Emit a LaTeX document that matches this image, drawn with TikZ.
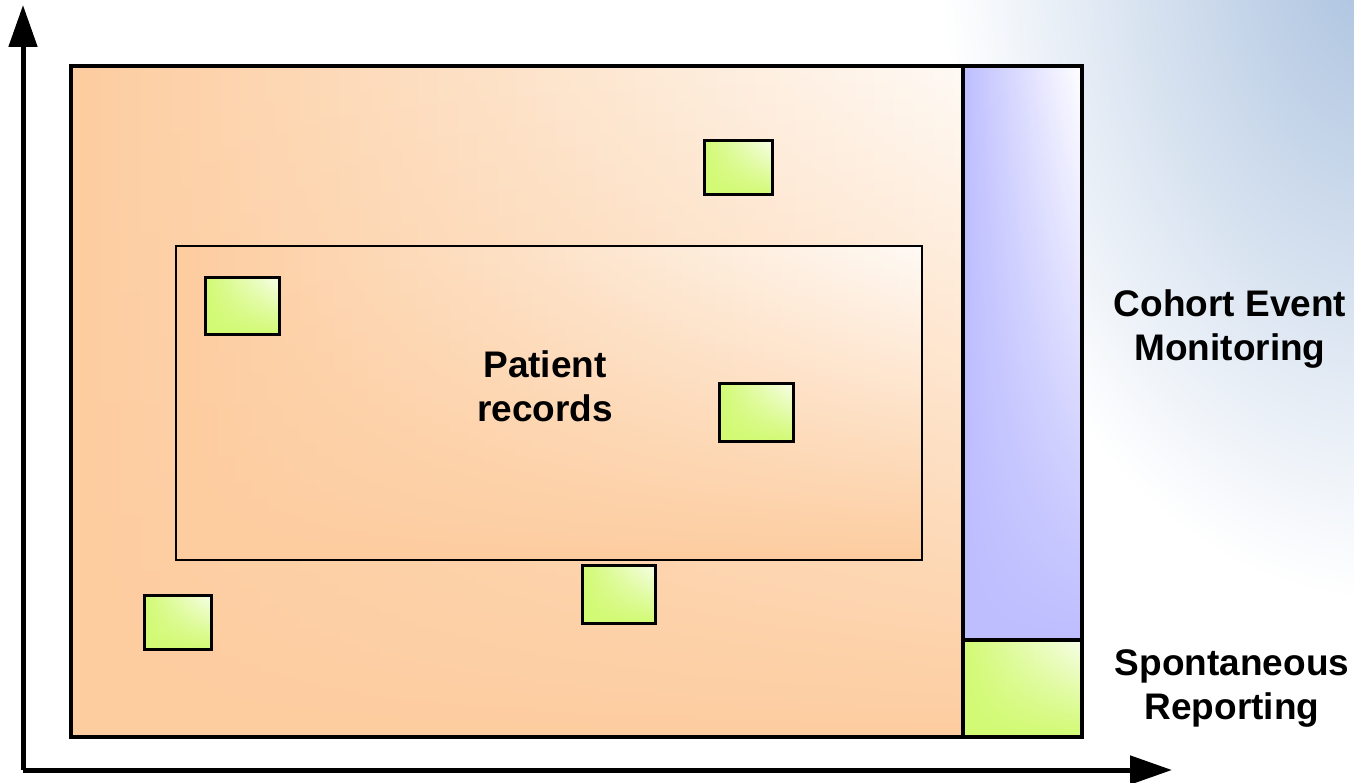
\documentclass[tikz,border=0pt]{standalone}
\usepackage{fontspec}
\setmainfont{Liberation Sans}
\usetikzlibrary{arrows.meta,fadings}

\definecolor{pkorange}{RGB}{253,205,160}
\definecolor{pklight}{RGB}{255,250,245}
\definecolor{pklime}{RGB}{210,250,115}
\definecolor{pkviolet}{RGB}{190,190,255}
\definecolor{pksky}{RGB}{168,192,222}

% opaque at the bottom, clear at the top
\tikzfading[name=fadeup, top color=transparent!100, middle color=transparent!75,
  bottom color=transparent!0]

\tikzset{
  orangefill/.style={left color=pkorange, right color=pklight,
    postaction={fill=pkorange, path fading=fadeup}},
  limefill/.style={left color=pklime, right color=white!85!pklime,
    postaction={fill=pklime, path fading=fadeup}},
  signalbox/.style={limefill, inner sep=0pt,
    postaction={draw=black, line width=3pt}},
  labeltext/.style={align=center, font=\fontsize{37}{44}\selectfont\bfseries},
  axisline/.style={line width=5pt, -{Triangle[length=42pt,width=28pt]}}
}

\begin{document}
\begin{tikzpicture}[x=1pt,y=-1pt]
    \useasboundingbox (0,0) rectangle (1354,783);
    \fill[white] (0,0) rectangle (1354,783);

    % Background tint in the top right corner
    \begin{scope}
        \clip (0,0) rectangle (1354,783);
        \shade[inner color=pksky, outer color=white] (1380,-60) ellipse (440 and 660);
    \end{scope}

    % Axes
    \coordinate (origin) at (23,770);
    \coordinate (ytip) at (23,5);
    \coordinate (xtip) at (1172,770);
    \draw[axisline] (origin) -- (ytip);
    \draw[axisline] (origin) -- (xtip);

    % Population and patient records
    \path[orangefill] (71,66) rectangle (963,737);
    \draw[line width=4pt] (71,66) rectangle (963,737);
    \path[orangefill] (176,246) rectangle (922,560);
    \draw[line width=2.5pt] (176,246) rectangle (922,560);

    % Cohort column and spontaneous corner
    \path[left color=pkviolet, right color=white,
        postaction={fill=pkviolet, path fading=fadeup}] (963,66) rectangle (1082,640);
    \path[limefill] (963,640) rectangle (1082,737);
    \draw[line width=4pt] (963,66) rectangle (1082,737);
    \draw[line width=4pt] (963,640) -- (1082,640);

    % Reported cases
    \node[signalbox, minimum width=68pt, minimum height=54pt] (caseA) at (738,168) {};
    \node[signalbox, minimum width=74pt, minimum height=57pt] (caseB) at (242,306) {};
    \node[signalbox, minimum width=74pt, minimum height=58pt] (caseC) at (756,412) {};
    \node[signalbox, minimum width=73pt, minimum height=58pt] (caseD) at (619,594) {};
    \node[signalbox, minimum width=67pt, minimum height=54pt] (caseE) at (178,622) {};

    % Labels
    \node[labeltext] (patient) at (545,386) {Patient\\records};
    \node[labeltext] (cohort) at (1230,329) {Cohort Event\\Monitoring};
    \node[labeltext] (spont) at (1232,688) {Spontaneous\\Reporting};
\end{tikzpicture}
\end{document}
